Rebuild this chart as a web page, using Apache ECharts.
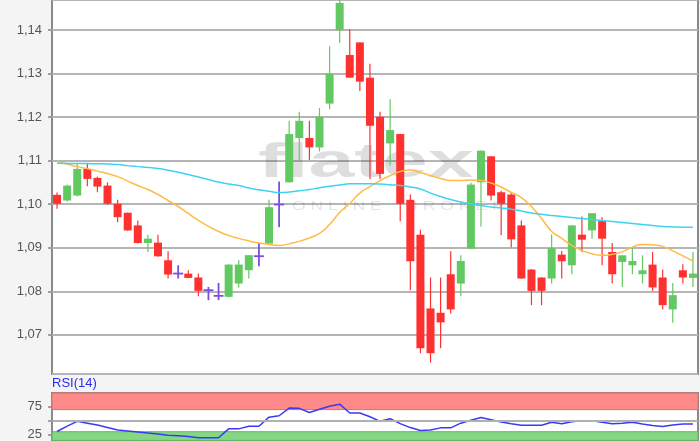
<!DOCTYPE html>
<html><head><meta charset="utf-8">
<script src="https://cdn.jsdelivr.net/npm/echarts@6/dist/echarts.min.js"></script>
<style>html,body{margin:0;padding:0;background:#f4f4f4}#c{width:700px;height:441px}</style>
</head><body><div id="c"></div><script>
const opens  = [1.10215,1.10085,1.10199,1.10810,1.10604,1.10428,1.10009,1.09803,1.09513,1.09108,1.09117,1.08712,1.08407,1.08405,1.08316,1.08025,1.07895,1.07872,1.08178,1.08483,1.08806,1.09094,1.09993,1.10503,1.11520,1.11520,1.11304,1.12311,1.13998,1.13426,1.13716,1.12906,1.12007,1.11396,1.11611,1.10101,1.09300,1.07606,1.07506,1.08391,1.08178,1.08980,1.10503,1.11100,1.10275,1.10222,1.09513,1.08499,1.08316,1.08293,1.08842,1.08597,1.09300,1.09398,1.09611,1.08902,1.08673,1.08597,1.08391,1.08613,1.08316,1.07584,1.08483,1.08307];
const closes = [1.10009,1.10428,1.10810,1.10581,1.10405,1.10009,1.09703,1.09398,1.09108,1.09208,1.08803,1.08384,1.08407,1.08307,1.08009,1.08025,1.07895,1.08613,1.08613,1.08829,1.08806,1.09931,1.09993,1.11611,1.11915,1.11304,1.12007,1.12998,1.14623,1.12906,1.12815,1.11801,1.10696,1.11703,1.10009,1.08689,1.06691,1.06577,1.07286,1.07584,1.08696,1.10450,1.11229,1.10199,1.10009,1.09192,1.08293,1.08009,1.08009,1.08993,1.08689,1.09513,1.09185,1.09794,1.09208,1.08391,1.08826,1.08696,1.08483,1.08087,1.07682,1.07911,1.08316,1.08407];
const lows   = [1.09895,1.10062,1.10176,1.10412,1.10275,1.09985,1.09588,1.09390,1.09100,1.08902,1.08795,1.08293,1.08293,1.08300,1.07888,1.07796,1.07796,1.07865,1.08087,1.08293,1.08574,1.09090,1.09474,1.10500,1.11016,1.11016,1.11213,1.12183,1.13707,1.12900,1.12602,1.10581,1.10581,1.10886,1.09611,1.08025,1.06577,1.06362,1.06691,1.07492,1.07888,1.08975,1.09490,1.10085,1.09284,1.09009,1.08290,1.07682,1.07682,1.08178,1.08293,1.08391,1.08902,1.09208,1.08597,1.08178,1.08100,1.08391,1.08178,1.08009,1.07584,1.07277,1.08178,1.08100];
const highs  = [1.10268,1.10451,1.10924,1.10924,1.10634,1.10503,1.10101,1.09810,1.09627,1.09300,1.09300,1.08918,1.08597,1.08483,1.08407,1.08100,1.08192,1.08620,1.08712,1.08835,1.09108,1.10101,1.10520,1.11915,1.12121,1.11915,1.12206,1.13627,1.14700,1.14014,1.13720,1.13227,1.12121,1.12412,1.11620,1.10222,1.09414,1.08316,1.08316,1.08918,1.08826,1.10490,1.11235,1.11105,1.10310,1.10275,1.09627,1.08505,1.08320,1.09307,1.08925,1.09520,1.09719,1.09800,1.09703,1.09108,1.08830,1.09009,1.08826,1.08902,1.08499,1.08192,1.08620,1.08902];
const maShort = [1.10978,1.10921,1.10863,1.10817,1.10760,1.10703,1.10634,1.10531,1.10428,1.10337,1.10222,1.10085,1.09947,1.09787,1.09627,1.09489,1.09375,1.09283,1.09215,1.09157,1.09107,1.09077,1.09054,1.09089,1.09146,1.09226,1.09329,1.09535,1.09810,1.10016,1.10256,1.10405,1.10543,1.10657,1.10749,1.10783,1.10726,1.10657,1.10589,1.10543,1.10543,1.10554,1.10543,1.10485,1.10394,1.10268,1.10153,1.09947,1.09673,1.09375,1.09215,1.09054,1.08940,1.08860,1.08825,1.08848,1.08905,1.09015,1.09077,1.09066,1.09031,1.08928,1.08814,1.08695];
const maLong = [1.10939,1.10937,1.10934,1.10932,1.10930,1.10925,1.10909,1.10886,1.10863,1.10845,1.10818,1.10779,1.10733,1.10680,1.10623,1.10566,1.10508,1.10463,1.10428,1.10371,1.10330,1.10298,1.10268,1.10279,1.10307,1.10337,1.10378,1.10410,1.10440,1.10467,1.10469,1.10469,1.10463,1.10447,1.10428,1.10394,1.10348,1.10256,1.10176,1.10108,1.10050,1.10005,1.09970,1.09936,1.09913,1.09886,1.09844,1.09798,1.09769,1.09741,1.09718,1.09695,1.09673,1.09650,1.09627,1.09604,1.09581,1.09558,1.09535,1.09512,1.09489,1.09478,1.09473,1.09473];
const rsi = [30.4,40.2,48.8,45.5,42,37.5,33,31.3,29.5,27.7,25.9,23.6,22.7,21.4,19.1,19.1,19.1,35.2,35.2,39.8,39.8,56.3,58.9,72.7,72.3,64.8,70.5,75.9,79.8,63.8,63.8,57.1,48.8,53.6,44.6,37.5,32.1,33,37,37,45.5,50.9,55.9,51.8,47.7,44.6,41.6,41.6,41.6,47,44.6,48.2,50,50,47.3,44.6,45.5,47,43.8,41.1,39.3,42,44.1,44.1];
const rsiBands = [30, 70];
const rsiLabels = [25, 75];
const rsiTicks = [25, 50, 75];
const categories = opens.map((_, i) => String(i + 1));

const UP = '#62c962', DOWN = '#ff3030', DOJI = '#7a4fe0';
const fmt = v => v.toFixed(2).replace('.', ',');
const candleData = opens.map((o, i) => [i, o, closes[i], lows[i], highs[i]]);

function renderCandle(params, api) {
  const i = api.value(0), o = api.value(1), c = api.value(2), l = api.value(3), h = api.value(4);
  const po = api.coord([i, o]), pc = api.coord([i, c]);
  const pl = api.coord([i, l]), ph = api.coord([i, h]);
  const x = po[0];
  const doji = o === c;
  const col = doji ? DOJI : (c > o ? UP : DOWN);
  const top = Math.min(po[1], pc[1]), bot = Math.max(po[1], pc[1]);
  const children = [
    { type: 'line', shape: { x1: x, y1: ph[1], x2: x, y2: pl[1] },
      style: { stroke: col, lineWidth: doji ? 1.8 : 1.2 } }
  ];
  if (doji) {
    children.push({ type: 'line', shape: { x1: x - 5, y1: top, x2: x + 5, y2: top }, style: { stroke: col, lineWidth: 1.8 } });
  } else {
    children.push({ type: 'rect', shape: { x: x - 4, y: top, width: 8, height: Math.max(bot - top, 1) }, style: { fill: col } });
  }
  return { type: 'group', children };
}

const chart = echarts.init(document.getElementById('c'), null, { renderer: 'canvas' });
chart.setOption({
  animation: false,
  backgroundColor: '#f4f4f4',
  title: { text: 'RSI(14)', left: 52, top: 377, padding: 0,
    textStyle: { fontSize: 13, color: '#2b2bf0', fontWeight: 'normal', fontFamily: 'Liberation Sans, Arial, sans-serif' } },
  graphic: [
    { type: 'text', left: 258, top: 140, z: 1, silent: true, scaleX: 1.72,
      style: { text: 'flatex', font: 'bold 48px "Liberation Sans", Arial, sans-serif', fill: 'rgba(0,0,0,0.13)' } },
    { type: 'text', left: 292, top: 200, z: 1, silent: true, scaleX: 1.35,
      style: { text: 'O N L I N E     B R O K E R', font: '13px "Liberation Sans", Arial, sans-serif', fill: 'rgba(0,0,0,0.1)' } }
  ],
  grid: [
    { left: 52, right: 2, top: -1, height: 375, show: true, backgroundColor: '#ffffff', borderColor: '#8a8a8a', borderWidth: 2, z: 0 },
    { left: 52, right: 2, top: 393, bottom: 0, show: true, backgroundColor: '#ffffff', borderColor: '#8a8a8a', borderWidth: 2, z: 0 }
  ],
  xAxis: [
    { type: 'category', gridIndex: 0, data: categories, boundaryGap: true, axisLine: { show: false }, axisTick: { show: false }, axisLabel: { show: false }, splitLine: { show: false } },
    { type: 'category', gridIndex: 1, data: categories, boundaryGap: true, axisLine: { show: false }, axisTick: { show: false }, axisLabel: { show: false }, splitLine: { show: false } }
  ],
  yAxis: [
    { type: 'value', gridIndex: 0, min: 1.061, max: 1.1469, splitNumber: 8, scale: true,
      axisLine: { show: false },
      axisTick: { show: true, length: 4, lineStyle: { color: '#888', width: 1.5 } },
      axisLabel: { showMinLabel: false, showMaxLabel: false, color: '#555', fontSize: 13, margin: 10,
        fontFamily: 'Liberation Sans, Arial, sans-serif', formatter: fmt },
      splitLine: { lineStyle: { color: '#b5b5b5', width: 2 } } },
    { type: 'value', gridIndex: 1, min: 14.3, max: 100,
      axisLine: { show: false },
      axisTick: { show: true, length: 4, customValues: rsiTicks, lineStyle: { color: '#888', width: 1.5 } },
      axisLabel: { color: '#555', fontSize: 13, margin: 10, customValues: rsiLabels,
        fontFamily: 'Liberation Sans, Arial, sans-serif', formatter: v => String(v) },
      splitLine: { show: false } }
  ],
  series: [
    { type: 'custom', xAxisIndex: 0, yAxisIndex: 0, data: candleData, z: 3,
      encode: { x: 0, y: [1, 2, 3, 4] }, renderItem: renderCandle },
    { type: 'line', xAxisIndex: 0, yAxisIndex: 0, data: maShort, smooth: true, symbol: 'none', z: 4,
      lineStyle: { color: '#ffbb44', width: 1.5 } },
    { type: 'line', xAxisIndex: 0, yAxisIndex: 0, data: maLong, smooth: true, symbol: 'none', z: 4,
      lineStyle: { color: '#3fd2f2', width: 1.5 } },
    { type: 'line', xAxisIndex: 1, yAxisIndex: 1, data: rsi, symbol: 'none', z: 4,
      lineStyle: { color: '#3a3af2', width: 1.5 },
      markArea: { silent: true, data: [
        [ { yAxis: rsiBands[1], itemStyle: { color: '#ff8a8a', borderColor: '#e06a6a', borderWidth: 1 } }, { yAxis: 100 } ],
        [ { yAxis: 0, itemStyle: { color: '#86d686', borderColor: '#5cb85c', borderWidth: 1 } }, { yAxis: rsiBands[0] } ]
      ] },
      markLine: { silent: true, symbol: 'none', label: { show: false },
        lineStyle: { color: '#b0b0b0', width: 2, type: 'solid' }, data: [ { yAxis: 50 } ] } }
  ]
});
</script></body></html>
